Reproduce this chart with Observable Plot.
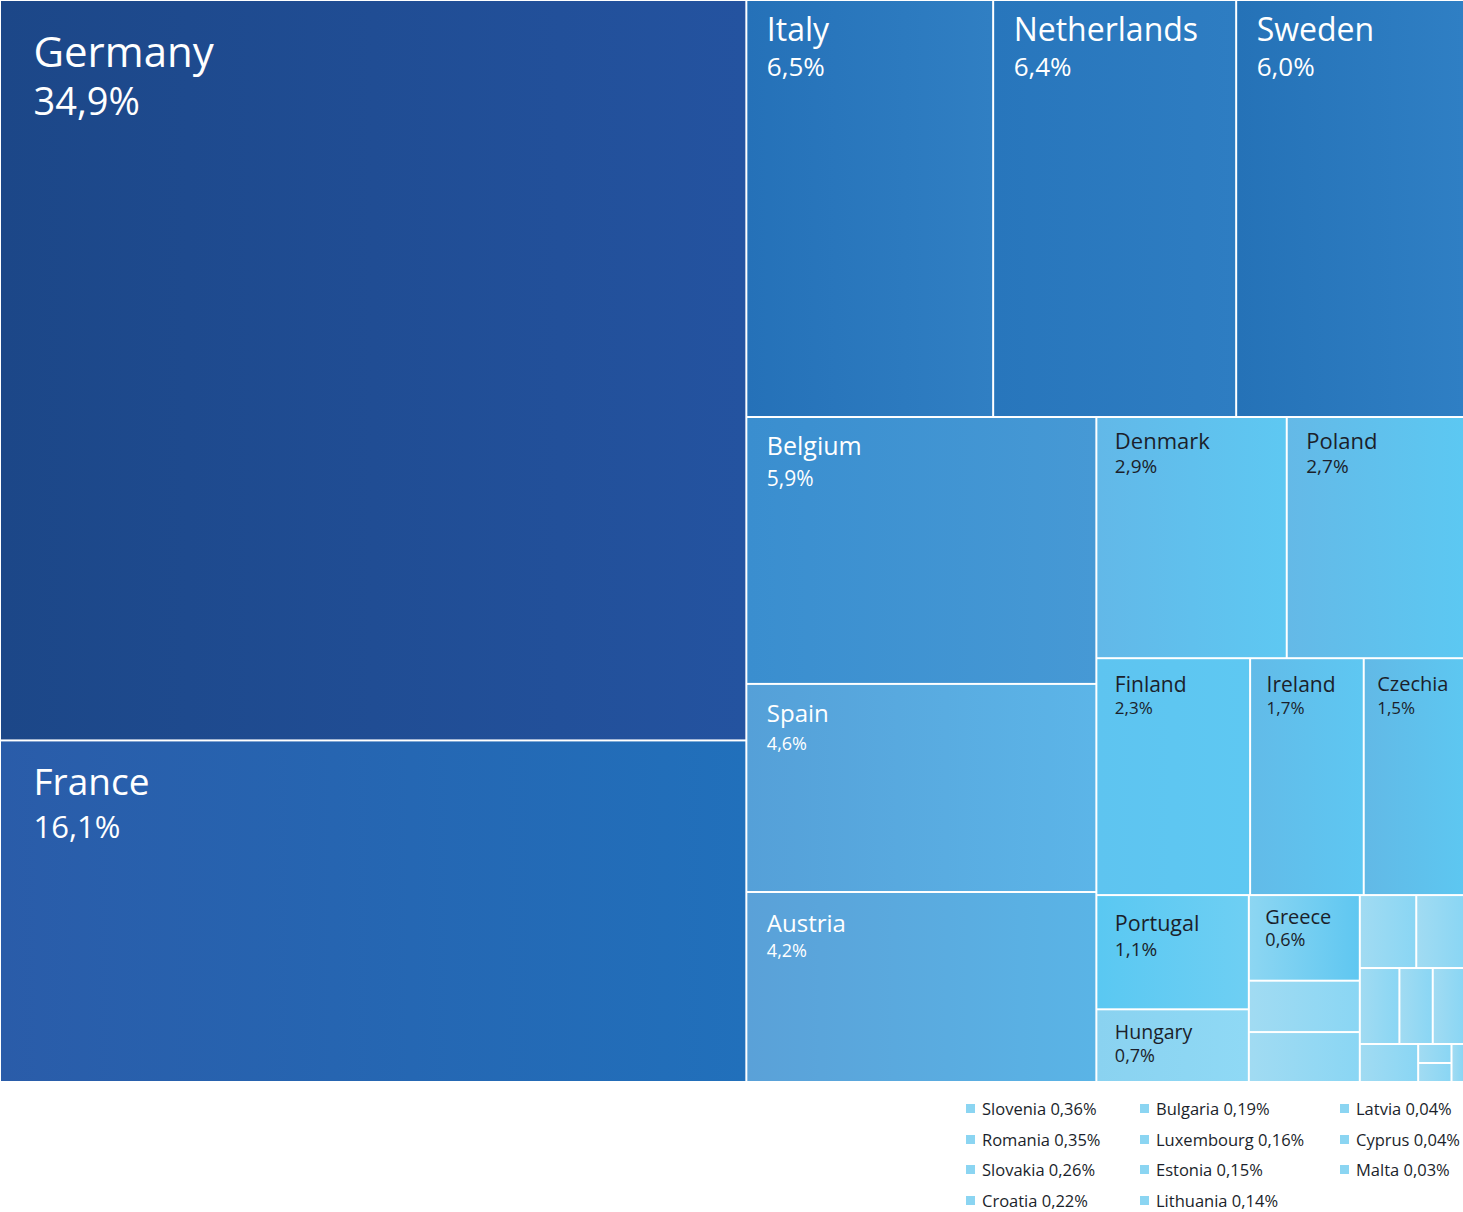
<!DOCTYPE html>
<html>
<head>
<meta charset="utf-8">
<script src="https://cdn.jsdelivr.net/npm/d3@7"></script>
<script src="https://cdn.jsdelivr.net/npm/@observablehq/plot@0.6"></script>
<style>
  body { margin: 0; background: #fff; font-family: "Open Sans", sans-serif; }
  #wrap { position: relative; width: 1463px; }
  #chart svg { display: block; }
  #legend { position: relative; height: 130px; width: 1463px; }
  .li { position: absolute; display: flex; align-items: center; font-size: 16.5px; color: #1b1f2b; white-space: pre; }
  .li .sw { width: 9px; height: 9px; background: #8bd5f2; margin-right: 7px; }
</style>
</head>
<body>
<div id="wrap">
  <div id="chart"></div>
  <div id="legend"></div>
</div>
<script>
// ---- data ----
const countries = ["Germany", "France", "Italy", "Netherlands", "Sweden", "Belgium", "Spain", "Austria",
  "Denmark", "Poland", "Finland", "Ireland", "Czechia", "Portugal", "Hungary", "Greece"];
const shares = [34.9, 16.1, 6.5, 6.4, 6.0, 5.9, 4.6, 4.2, 2.9, 2.7, 2.3, 1.7, 1.5, 1.1, 0.7, 0.6];

const minorCountries = ["Slovenia", "Romania", "Slovakia", "Croatia", "Bulgaria", "Luxembourg",
  "Estonia", "Lithuania", "Latvia", "Cyprus", "Malta"];
const minorShares = [0.36, 0.35, 0.26, 0.22, 0.19, 0.16, 0.15, 0.14, 0.04, 0.04, 0.03];

// ---- styles ----
const gradients = {
  Germany: ["#1c4788", "#2453a0"],
  France: ["#2a5ca9", "#2170bb"],
  Italy: ["#2571b8", "#307fc3"],
  Netherlands: ["#2876bc", "#2e7dc2"],
  Sweden: ["#2572b7", "#2f7fc4"],
  Belgium: ["#3a8ecf", "#4699d5"],
  Spain: ["#55a0d8", "#5cb5e8"],
  Austria: ["#5aa1d8", "#5ab4e6"],
  Denmark: ["#62b8e8", "#5ec8f2"],
  Poland: ["#64b9e7", "#5cc8f2"],
  Finland: ["#5ec4f0", "#5ec8f2"],
  Ireland: ["#62bbe8", "#5ec7f2"],
  Czechia: ["#62b9e6", "#5dc7f1"],
  Portugal: ["#5ac8f2", "#6ecff3"],
  Hungary: ["#8ad2f0", "#8fd9f5"],
  Greece: ["#8dd6f2", "#5fc7f1"]
};
const minorGradient = ["#a1dbf2", "#8ad6f4"];

// label styles: [nameSize, pctSize, padX, nameTop, pctTop, color]
const W = "#ffffff", D = "#1b1f2b";
const labelStyle = {
  Germany: [42, 38, 32, 36, 87, W],
  France: [37, 31, 32, 27, 74, W],
  Italy: [32, 26, 19, 17, 56, W],
  Netherlands: [32, 26, 19, 17, 56, W],
  Sweden: [32, 26, 19, 17, 56, W],
  Belgium: [25, 21, 19, 19, 53, W],
  Spain: [24, 18, 19, 20, 52, W],
  Austria: [24, 18, 19, 21, 51, W],
  Denmark: [22, 19, 17, 15, 41, D],
  Poland: [22, 19, 18, 15, 41, D],
  Finland: [21, 17, 17, 17, 42, D],
  Ireland: [21, 17, 15, 17, 42, D],
  Czechia: [20, 17, 12, 17, 42, D],
  Portugal: [21.5, 19, 17, 19, 46, D],
  Hungary: [19.5, 18, 17, 14, 38, D],
  Greece: [20, 18, 15, 13, 37, D]
};

const fmt = (v, d) => v.toFixed(d).replace(".", ",") + "%";

// ---- layout ----
const width = 1463, height = 1082;
const items = countries.map((name, i) => ({name, value: shares[i], major: true}))
  .concat(minorCountries.map((name, i) => ({name, value: minorShares[i], major: false})));
const root = d3.hierarchy({children: items}).sum(d => d.value || 0).sort((a, b) => b.value - a.value);
d3.treemap().size([width + 1, height]).tile(d3.treemapSquarify).paddingInner(2).paddingOuter(1)(root);
const cells = root.leaves().map((l, i) => ({
  name: l.data.name, value: l.data.value, major: l.data.major,
  x0: l.x0, x1: l.x1, y0: l.y0, y1: l.y1, gid: "grad" + i
}));
const labeled = cells.filter(c => labelStyle[c.name]);

const svg = Plot.plot({
  width, height,
  margin: 0,
  x: {type: "identity", axis: null},
  y: {type: "identity", axis: null},
  color: {type: "identity"},
  style: {background: "#fff"},
  marks: [
    Plot.rect(cells, {x1: "x0", x2: "x1", y1: "y0", y2: "y1", fill: d => `url(#${d.gid})`}),
    Plot.text(labeled, {
      x: d => d.x0 + labelStyle[d.name][2], y: d => d.y0 + labelStyle[d.name][3],
      text: "name", fontSize: d => labelStyle[d.name][0], fill: d => labelStyle[d.name][5],
      textAnchor: "start", lineAnchor: "top", fontFamily: "Open Sans"
    }),
    Plot.text(labeled, {
      x: d => d.x0 + labelStyle[d.name][2], y: d => d.y0 + labelStyle[d.name][4],
      text: d => fmt(d.value, 1), fontSize: d => labelStyle[d.name][1], fill: d => labelStyle[d.name][5],
      textAnchor: "start", lineAnchor: "top", fontFamily: "Open Sans"
    })
  ]
});

// gradient defs
const defs = d3.select(svg).insert("defs", ":first-child");
cells.forEach(c => {
  const g = gradients[c.name] || minorGradient;
  const lg = defs.append("linearGradient").attr("id", c.gid).attr("x1", 0).attr("x2", 1).attr("y1", 0).attr("y2", 0);
  lg.append("stop").attr("offset", "0%").attr("stop-color", g[0]);
  lg.append("stop").attr("offset", "100%").attr("stop-color", g[1]);
});
document.getElementById("chart").appendChild(svg);

// legend
const legend = document.getElementById("legend");
const colLeft = [966, 1140, 1340];
minorCountries.forEach((name, i) => {
  const col = Math.floor(i / 4), row = i % 4;
  const el = document.createElement("div");
  el.className = "li";
  el.style.left = colLeft[col] + "px";
  el.style.top = (15 + row * 30.5) + "px";
  el.innerHTML = `<span class="sw"></span><span></span>`;
  el.lastChild.textContent = name + " " + fmt(minorShares[i], 2);
  legend.appendChild(el);
});
</script>
</body>
</html>
